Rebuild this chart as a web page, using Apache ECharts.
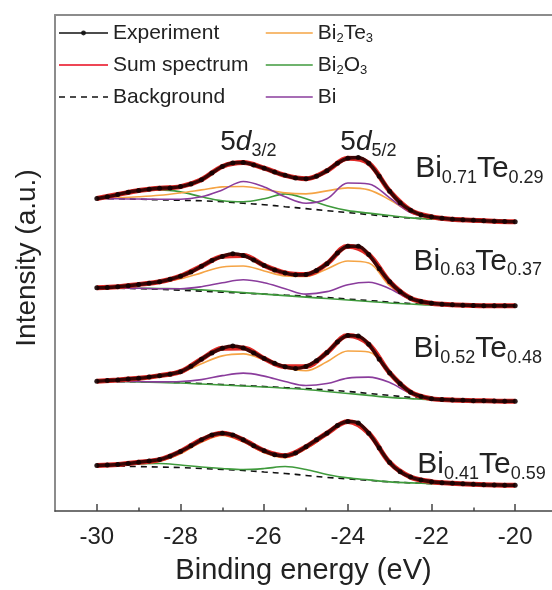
<!DOCTYPE html>
<html><head><meta charset="utf-8">
<script src="https://cdn.jsdelivr.net/npm/echarts@6/dist/echarts.min.js"></script>
<style>html,body{margin:0;padding:0;background:#fff;overflow:hidden}#c{width:552px;height:590px}</style>
</head><body><div id="c"></div>
<script>
// Binding energy grids (eV)
const energyFine = [-30,-29.75,-29.5,-29.25,-29,-28.75,-28.5,-28.25,-28,-27.75,-27.5,-27.25,-27,-26.75,-26.5,-26.25,-26,-25.75,-25.5,-25.25,-25,-24.75,-24.5,-24.25,-24,-23.75,-23.5,-23.25,-23,-22.75,-22.5,-22.25,-22,-21.75,-21.5,-21.25,-21,-20.75,-20.5,-20.25,-20];
const energyCoarse = [-30,-29.5,-29,-28.5,-28,-27.5,-27,-26.5,-26,-25.5,-25,-24.5,-24,-23.5,-23,-22.5,-22,-21.5,-21,-20.5,-20];
const majorTicks = [-30,-28,-26,-24,-22,-20];
const minorTicks = [-29,-27,-25,-23,-21];

// Spectrum 1: Bi0.71Te0.29 (offset-stacked intensity, a.u.)
const s1Exp = [316.3,318,320.3,322.7,324.3,325.7,326.7,327,328.3,331,335.3,342,348.7,352.3,352.7,350.3,347,343,339.7,337,336.3,338.7,344.3,352,357,357.7,352,338.7,323.7,312,304.3,299.7,297.7,296.3,295.3,294.7,294.3,293.7,293.3,293,292.7];
const s1Sum = [316.3,320.3,324.3,326.7,328.3,335.3,348.7,352.7,347,339.7,336.3,344.3,357,352,323.7,304.3,297.7,295.3,294.3,293.3,292.7];
const s1Bg = [316.3,316,315.5,315,314.5,314,313,311.5,310,308,306,304,302,300,298,296.5,295.5,294.7,294,293.3,292.7];
const s1Bi2Te3 = [316.3,317,318,319.5,322,325,328,328.5,325.5,322,321,324,327,325,315,302.5,297.5,295.3,294.3,293.3,292.7];
const s1Bi2O3 = [316.3,320,324,325,323,318,314,313,316,321,316,309,304,301.5,299,296.7,295.5,294.7,294,293.3,292.7];
const s1Bi = [316.3,316,315.7,315.5,315.5,318,325,333.5,328,318,311.5,316,332,331,317,302,297.5,295.5,294,293.3,292.7];

// Spectrum 2: Bi0.63Te0.37
const s2Exp = [226,226.3,227,228,229.3,230.5,232,234.5,237.7,242,247.7,253.5,257.7,260.3,258.7,254,248.5,244,241,239,239.3,243.5,250.3,261,268,268,259.5,245.3,232,222,215.3,212,210.3,209.3,208.7,208.3,208,207.8,207.7,207.7,207.7];
const s2Sum = [226,227,229.3,232,237.7,247.7,257.7,258.7,248.5,241,239.3,250.3,268,259.5,232,215.3,210.3,208.7,208,207.7,207.7];
const s2Bg = [226,225.5,225,224.3,223.5,222.5,221.5,220.5,219.5,218.5,217.5,216,214.5,213,211.5,210,209,208.3,208,207.8,207.7];
const s2Bi2Te3 = [226,227,228.5,231,235,241,247,248,243,238,237.5,245,253,251,228,214.5,210,208.5,208,207.8,207.7];
const s2Bi2O3 = [226,225.7,225.5,225.2,225,223.8,222.5,221,219.5,218,216.5,215,213.5,212,210.5,209.5,208.5,208.2,208,207.8,207.7];
const s2Bi = [226,225.7,225.5,225,225,227,231,234,231,225,219.5,222,229,231.5,225,214,209.7,208.7,208,207.8,207.7];

// Spectrum 3: Bi0.52Te0.48
const s3Exp = [131.3,132,132.7,133.5,134.3,135.5,137,138.5,141,146.5,153.7,160,164.7,167,165,160,154.3,149.5,146,144.3,146.3,152,160.3,171,177.5,177,168.7,153.7,139.7,128.7,120.3,116,113.7,112.8,112.3,112,111.7,111.5,111.3,111.1,111];
const s3Sum = [131.3,132.7,134.3,137,141,153.7,164.7,165,154.3,146,146.3,160.3,177.5,168.7,139.7,120.3,113.7,112.3,111.7,111.3,111];
const s3Bg = [131.3,131,130.8,130.4,130,129,128,127,126,125,124,122.5,121,119,117,115,113.5,112.5,111.8,111.3,111];
const s3Bi2Te3 = [131.3,132,133.5,136,140,149,157,159,153,145,142,151,162,161,138,119.5,113.3,112,111.5,111.3,111];
const s3Bi2O3 = [131.3,131,130.5,130,129.5,128.5,127.5,126.5,125.5,124.3,123,121,119,117,115,113.7,112.5,112,111.5,111.2,111];
const s3Bi = [131.3,131.2,131,130.7,131,133,137,139.5,136.5,131,127,129,134.5,135.5,130,119,113.5,112.5,111.7,111.3,111];

// Spectrum 4: Bi0.41Te0.59
const s4Exp = [46,46.5,47,48,49.3,50.5,52,55.5,60.3,66,72,77,78.7,77,72,66,61,57,56,58.7,65,72,78.7,86.5,90.5,89,78.7,63.7,49,39.7,34.3,31.3,29.7,28.7,28,27.5,27,26.6,26.3,26.1,26];
const s4Sum = [46,47,49.3,52,60.3,72,78.7,72,61,56,65,78.7,90.5,78.7,49,34.3,29.7,28,27,26.3,26];
const s4Bg = [46,45.5,45,44.5,44,43,42,41,39.5,38,36,34,32.5,31,29.5,28.5,27.7,27.2,26.8,26.4,26];
const s4Bi2Te3 = [46,46.5,48,50.5,58,69.5,76.5,70,59,54,63,77,89.5,77.5,48,34,29.5,27.8,26.8,26.4,26];
const s4Bi2O3 = [46,46.5,47.5,48,46.5,44.5,43,42,43,45,42,37,33.5,31.5,29.5,28.5,27.7,27.2,26.8,26.4,26];
const s4Bi = [];

const sampleLabels = [
  {x: -22.39, y: 346.5, main1: 'Bi', sub1: '0.71', main2: 'Te', sub2: '0.29'},
  {x: -22.43, y: 252.5, main1: 'Bi', sub1: '0.63', main2: 'Te', sub2: '0.37'},
  {x: -22.43, y: 164, main1: 'Bi', sub1: '0.52', main2: 'Te', sub2: '0.48'},
  {x: -22.34, y: 47, main1: 'Bi', sub1: '0.41', main2: 'Te', sub2: '0.59'}
];
const peakLabels = [
  {x: -27.05, y: 373.5, sub: '3/2'},
  {x: -24.18, y: 373.5, sub: '5/2'}
];

const FONT = '"Liberation Sans", Arial, Helvetica, sans-serif';
const spectra = [
  {exp: s1Exp, sum: s1Sum, bg: s1Bg, te: s1Bi2Te3, ox: s1Bi2O3, bi: s1Bi},
  {exp: s2Exp, sum: s2Sum, bg: s2Bg, te: s2Bi2Te3, ox: s2Bi2O3, bi: s2Bi},
  {exp: s3Exp, sum: s3Sum, bg: s3Bg, te: s3Bi2Te3, ox: s3Bi2O3, bi: s3Bi},
  {exp: s4Exp, sum: s4Sum, bg: s4Bg, te: s4Bi2Te3, ox: s4Bi2O3, bi: s4Bi}
];
const zip = (xs, ys) => ys.map((v, i) => [xs[i], v]);

const COLORS = {exp: '#160202', sum: '#e02a26', bg: '#111', te: '#f5a445', ox: '#3f9a3c', bi: '#8a3c9c'};
const series = [];
spectra.forEach(s => {
  const base = {type: 'line', xAxisIndex: 0, yAxisIndex: 0, symbol: 'none', smooth: 0.35, animation: false, silent: true};
  series.push(Object.assign({}, base, {name: 'Background', data: zip(energyCoarse, s.bg), z: 2,
    lineStyle: {color: COLORS.bg, width: 1.6, type: [6, 5]}, itemStyle: {color: COLORS.bg}}));
  series.push(Object.assign({}, base, {name: 'Bi2O3', data: zip(energyCoarse, s.ox), z: 3,
    lineStyle: {color: COLORS.ox, width: 1.6}, itemStyle: {color: COLORS.ox}}));
  series.push(Object.assign({}, base, {name: 'Bi2Te3', data: zip(energyCoarse, s.te), z: 3,
    lineStyle: {color: COLORS.te, width: 1.6}, itemStyle: {color: COLORS.te}}));
  series.push(Object.assign({}, base, {name: 'Bi', data: zip(energyCoarse, s.bi), z: 3,
    lineStyle: {color: COLORS.bi, width: 1.6}, itemStyle: {color: COLORS.bi}}));
  series.push(Object.assign({}, base, {name: 'Sum spectrum', data: zip(energyCoarse, s.sum), z: 4,
    lineStyle: {color: COLORS.sum, width: 5}, itemStyle: {color: COLORS.sum}}));
  series.push(Object.assign({}, base, {name: 'Experiment', data: zip(energyFine, s.exp), z: 5,
    symbol: 'circle', symbolSize: 5, showSymbol: true, showAllSymbol: true, smooth: 0.3,
    lineStyle: {color: '#3a0606', width: 3.5}, itemStyle: {color: COLORS.exp, opacity: 0.9}}));
});

const legendNames = {'Bi2Te3': '{m|Bi}{s|2}{m|Te}{s|3}', 'Bi2O3': '{m|Bi}{s|2}{m|O}{s|3}', 'Bi': '{m|Bi}'};
const legendText = {fontSize: 21, fontFamily: FONT, color: '#222', lineHeight: 24,
  rich: {m: {fontSize: 21, fontFamily: FONT, color: '#222', lineHeight: 24, verticalAlign: 'middle'},
         s: {fontSize: 13, fontFamily: FONT, color: '#222', lineHeight: 24, verticalAlign: 'bottom'}}};
const hiddenDot = {color: 'rgba(0,0,0,0)', borderWidth: 0, opacity: 0};

const chart = echarts.init(document.getElementById('c'), null, {renderer: 'canvas'});
const option = {
  backgroundColor: '#fff',
  animation: false,
  grid: {left: 55, right: 0, top: 15, bottom: 73, show: false, containLabel: false},
  legend: [
    {data: [
        {name: 'Experiment', itemStyle: {color: '#111'}, lineStyle: {color: '#111', width: 1.5}},
        {name: 'Sum spectrum', itemStyle: hiddenDot, lineStyle: {color: '#ee4655', width: 2}},
        {name: 'Background', itemStyle: hiddenDot, lineStyle: {color: '#111', width: 1.5, type: [6, 5]}}],
     orient: 'vertical', left: 58, top: 21, padding: 0,
     itemWidth: 49, itemHeight: 6, itemGap: 8, selectedMode: false, textStyle: legendText},
    {data: [
        {name: 'Bi2Te3', itemStyle: hiddenDot, lineStyle: {width: 1.5}},
        {name: 'Bi2O3', itemStyle: hiddenDot, lineStyle: {width: 1.5}},
        {name: 'Bi', itemStyle: hiddenDot, lineStyle: {width: 1.5}}],
     orient: 'vertical', left: 265, top: 21, padding: 0,
     itemWidth: 47, itemHeight: 6, itemGap: 8, selectedMode: false, textStyle: legendText,
     formatter: n => legendNames[n] || n}
  ],
  xAxis: [
    {type: 'value', min: -31, max: -19.12, position: 'bottom',
     axisLine: {show: true, onZero: false, lineStyle: {color: '#444', width: 1.5}},
     axisTick: {show: true, inside: true, length: 7, customValues: majorTicks, lineStyle: {color: '#444', width: 1.5}},
     axisLabel: {show: true, customValues: majorTicks, fontSize: 24, fontFamily: FONT, color: '#222', margin: 14},
     splitLine: {show: false},
     name: 'Binding energy (eV)', nameLocation: 'middle', nameGap: 45,
     nameTextStyle: {fontSize: 29, fontFamily: FONT, color: '#222'}},
    {type: 'value', min: -31, max: -19.12, position: 'bottom',
     axisLine: {show: false, onZero: false},
     axisTick: {show: true, inside: true, length: 3.5, customValues: minorTicks, lineStyle: {color: '#444', width: 1.5}},
     axisLabel: {show: false}, splitLine: {show: false}},
    {type: 'value', min: -31, max: -19.12, position: 'top',
     axisLine: {show: true, onZero: false, lineStyle: {color: '#8c8c8c', width: 2}},
     axisTick: {show: false}, axisLabel: {show: false}, splitLine: {show: false}}
  ],
  yAxis: {type: 'value', min: 0, max: 502, position: 'left',
    axisLine: {show: true, onZero: false, lineStyle: {color: '#8c8c8c', width: 2}},
    axisTick: {show: false}, axisLabel: {show: false}, splitLine: {show: false},
    name: 'Intensity (a.u.)', nameLocation: 'middle', nameGap: 14,
    nameTextStyle: {fontSize: 28, fontFamily: FONT, color: '#222', padding: [0, 0, 0, 10]}},
  series: series
};
chart.setOption(option);

// Text annotations anchored in data coordinates
const graphics = [];
const richMain = {fontSize: 30, fontFamily: FONT, fill: '#222', lineHeight: 36, verticalAlign: 'middle'};
const richSub = {fontSize: 18, fontFamily: FONT, fill: '#222', lineHeight: 36, verticalAlign: 'bottom'};
sampleLabels.forEach(l => {
  const p = chart.convertToPixel({xAxisIndex: 0, yAxisIndex: 0}, [l.x, l.y]);
  graphics.push({type: 'text', x: p[0], y: p[1], silent: true, z: 10,
    style: {text: `{m|${l.main1}}{s|${l.sub1}}{m|${l.main2}}{s|${l.sub2}}`, align: 'left', verticalAlign: 'middle',
      rich: {m: richMain, s: richSub}}});
});
const richPeakMain = Object.assign({}, richMain, {fontSize: 28});
peakLabels.forEach(l => {
  const p = chart.convertToPixel({xAxisIndex: 0, yAxisIndex: 0}, [l.x, l.y]);
  graphics.push({type: 'text', x: p[0], y: p[1], silent: true, z: 10,
    style: {text: `{m|5}{i|d}{s|${l.sub}}`, align: 'left', verticalAlign: 'middle',
      rich: {m: richPeakMain, i: Object.assign({}, richPeakMain, {fontStyle: 'italic'}), s: richSub}}});
});
chart.setOption({graphic: graphics});
</script>
</body></html>
